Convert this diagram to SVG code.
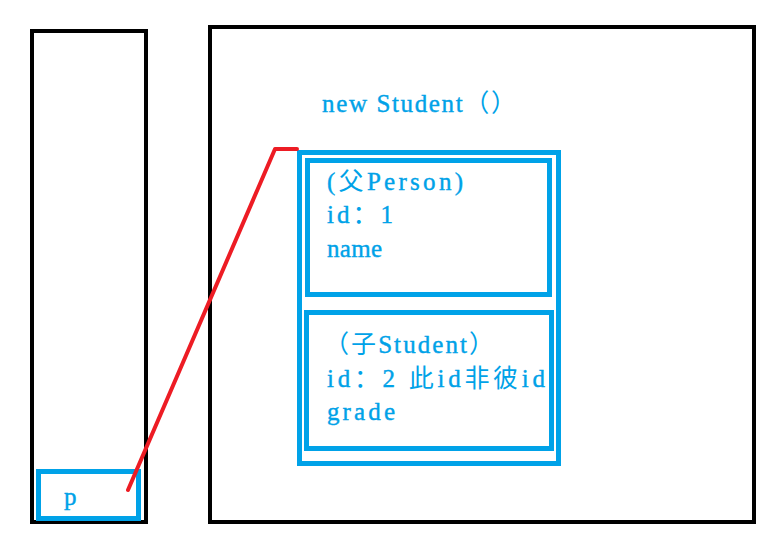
<svg xmlns="http://www.w3.org/2000/svg" width="783" height="538" viewBox="0 0 783 538">
<style>
.frame{fill:none;stroke:#000;stroke-width:4}
.blue{fill:none;stroke:#00a2e8;stroke-width:5}
text{font-family:"Liberation Serif","Noto Sans CJK SC",serif;font-size:25px;fill:#00a2e8;stroke:#00a2e8;stroke-width:0.4}
.cjk{font-family:"Noto Sans CJK SC","Liberation Serif",sans-serif;font-size:25px;stroke-width:0}
.link{fill:none;stroke:#ed1c24;stroke-width:4;stroke-linecap:round;stroke-linejoin:round}
</style>
<rect width="783" height="538" fill="#fff"/>
<g id="stack">
<rect class="frame" x="32" y="31" width="114" height="491"/>
</g>
<g id="heap">
<rect class="frame" x="210" y="27" width="544" height="495"/>
<text x="322" y="112" textLength="194" lengthAdjust="spacing">new Student<tspan class="cjk">（）</tspan></text>
</g>
<g id="p">
<rect class="blue" x="38.5" y="471.5" width="100" height="47"/>
<text x="64" y="505">p</text>
</g>
<g id="student-object">
<rect class="blue" x="299.5" y="152.5" width="259" height="311"/>
</g>
<g id="person-part">
<rect class="blue" x="307.5" y="160.5" width="242" height="134"/>
<text x="327" y="190" textLength="136" lengthAdjust="spacing">(<tspan class="cjk">父</tspan>Person)</text>
<text x="327" y="223" textLength="66" lengthAdjust="spacing">id<tspan class="cjk">：</tspan>1</text>
<text x="327" y="257" textLength="55" lengthAdjust="spacing">name</text>
</g>
<g id="student-part">
<rect class="blue" x="306.5" y="312.5" width="245" height="136"/>
<text x="324" y="353" textLength="170" lengthAdjust="spacing"><tspan class="cjk">（子</tspan>Student<tspan class="cjk">）</tspan></text>
<text x="327" y="387" textLength="218" lengthAdjust="spacing">id<tspan class="cjk">：</tspan>2 <tspan class="cjk">此</tspan>id<tspan class="cjk">非彼</tspan>id</text>
<text x="327" y="420" textLength="68" lengthAdjust="spacing">grade</text>
</g>
<g id="connectors">
<polyline class="link" points="128,490 275,149 297,149"/>
</g>
</svg>
